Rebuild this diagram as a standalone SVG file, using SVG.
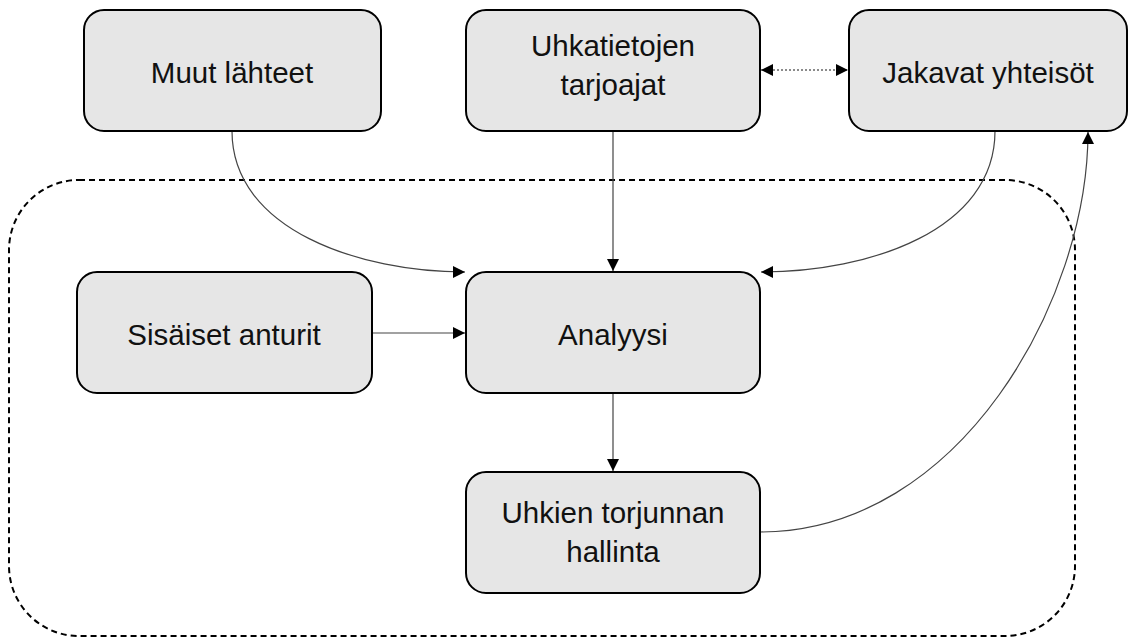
<svg xmlns="http://www.w3.org/2000/svg" width="1135" height="637" viewBox="0 0 1135 637">
<style>
.box{fill:#e6e6e6;stroke:#000;stroke-width:2}
.lbl{font-family:"Liberation Sans",Arial,sans-serif;font-size:29.5px;fill:#111;text-anchor:middle}
.con{fill:none;stroke:#444;stroke-width:1.2}
.dot{fill:none;stroke:#666;stroke-width:1.5;stroke-dasharray:2 2}
.frame{fill:none;stroke:#000;stroke-width:2;stroke-dasharray:6 4}
</style>
<defs>
<marker id="ah" viewBox="0 0 10 10" refX="10" refY="5" markerWidth="12" markerHeight="12" markerUnits="userSpaceOnUse" orient="auto">
<path d="M0,0 L10,5 L0,10 z" fill="#000"/>
</marker>
<marker id="ahs" viewBox="0 0 10 10" refX="10" refY="5" markerWidth="12" markerHeight="12" markerUnits="userSpaceOnUse" orient="auto-start-reverse">
<path d="M0,0 L10,5 L0,10 z" fill="#000"/>
</marker>
</defs>
<rect class="frame" x="9" y="180" width="1066" height="456" rx="70" ry="70"/>
<g id="connectors">
<path class="con" d="M232,131 C232,230 360,272 465,272" marker-end="url(#ah)"/>
<path class="con" d="M613,131 L613,271" marker-end="url(#ah)"/>
<path class="con" d="M995,131 C995,230 870,272 761,272" marker-end="url(#ah)"/>
<path class="con" d="M372,333 L465,333" marker-end="url(#ah)"/>
<path class="con" d="M613,393 L613,471" marker-end="url(#ah)"/>
<path class="con" d="M760,532 C960,532 1088,300 1088,132" marker-end="url(#ah)"/>
<path class="dot" d="M761,70 L848,70" marker-start="url(#ahs)" marker-end="url(#ahs)"/>
</g>
<g id="muut"><rect class="box" x="84" y="10" width="297" height="121" rx="20"/><text class="lbl" x="232" y="83">Muut lähteet</text></g>
<g id="uhkatietojen"><rect class="box" x="466" y="10" width="294" height="121" rx="20"/><text class="lbl" x="613" y="56">Uhkatietojen</text><text class="lbl" x="613" y="95">tarjoajat</text></g>
<g id="jakavat"><rect class="box" x="849" y="10" width="278" height="121" rx="20"/><text class="lbl" x="988" y="83">Jakavat yhteisöt</text></g>
<g id="sisaiset"><rect class="box" x="77" y="272" width="295" height="121" rx="20"/><text class="lbl" x="224" y="345">Sisäiset anturit</text></g>
<g id="analyysi"><rect class="box" x="466" y="272" width="294" height="121" rx="20"/><text class="lbl" x="613" y="345">Analyysi</text></g>
<g id="uhkien"><rect class="box" x="466" y="472" width="294" height="121" rx="20"/><text class="lbl" x="613" y="523">Uhkien torjunnan</text><text class="lbl" x="613" y="562">hallinta</text></g>
</svg>
